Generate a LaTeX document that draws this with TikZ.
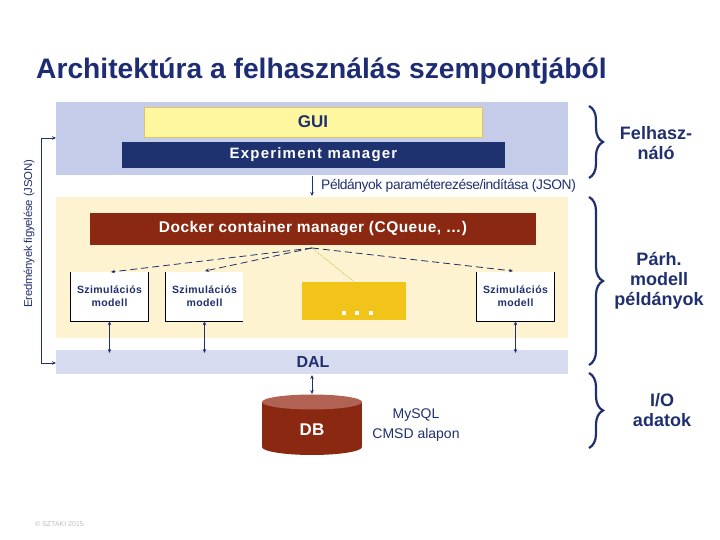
\documentclass[tikz,border=0pt]{standalone}
\usepackage{fontspec}
\setmainfont{Liberation Sans}
\usetikzlibrary{decorations.pathreplacing,arrows.meta}
\definecolor{navy}{RGB}{32,48,110}
\definecolor{titlecol}{RGB}{30,45,115}
\definecolor{panelblue}{RGB}{196,204,234}
\definecolor{dalblue}{RGB}{214,219,240}
\definecolor{cream}{RGB}{253,243,208}
\definecolor{expnavy}{RGB}{31,50,112}
\definecolor{brickred}{RGB}{138,40,17}
\definecolor{dbtop}{RGB}{178,98,82}
\definecolor{guiyellow}{RGB}{255,247,160}
\definecolor{guiborder}{RGB}{222,196,100}
\definecolor{dotsyellow}{RGB}{242,195,24}
\definecolor{copygray}{RGB}{190,190,190}
\tikzset{
  panel/.style={inner sep=0pt, anchor=south west},
  conn/.style={draw=navy, line width=0.6pt, -{Stealth[length=4pt,width=3.5pt]}},
  dconn/.style={draw=navy, line width=0.6pt, {Stealth[length=4pt,width=3.5pt]}-{Stealth[length=4pt,width=3.5pt]}},
  dashconn/.style={draw=navy, line width=0.8pt, dash pattern=on 7pt off 4pt, -{Stealth[length=4pt,width=3.5pt]}},
  simbox/.style={fill=white, minimum width=77pt, minimum height=49pt, inner sep=0pt, align=center, text=navy, font=\bfseries\fontsize{10.5}{13}\selectfont\addfontfeature{LetterSpace=4}},
  bracestyle/.style={draw=navy, line width=2.2pt, decorate, decoration={brace, amplitude=14pt}},
  sidelabel/.style={text=navy, align=center, font=\bfseries\fontsize{18}{20}\selectfont},
}
\begin{document}
\begin{tikzpicture}[x=1pt,y=1pt]
\useasboundingbox (0,0) rectangle (720,540);
% title
\node[anchor=base west, inner sep=0pt, text=titlecol, font=\bfseries\fontsize{28.2}{34}\selectfont] (title) at (36,461) {Architektúra a felhasználás szempontjából};
% panels
\fill[panelblue] (56,365) rectangle (568,438);
\fill[cream] (56,202) rectangle (568,343);
\fill[dalblue] (56,166) rectangle (568,190);
\node[text=navy, font=\bfseries\fontsize{16}{18}\selectfont] (dal) at (313,178) {DAL};
\coordinate (dalleft) at (56,177);
\coordinate (blueleft) at (56,402);
% GUI
\node[fill=guiyellow, draw=guiborder, line width=0.8pt, minimum width=338pt, minimum height=30pt, inner sep=0pt, text=navy, font=\bfseries\fontsize{17}{19}\selectfont] (gui) at (313,418) {GUI};
% Experiment manager
\node[fill=expnavy, minimum width=383pt, minimum height=26pt, inner sep=0pt, text=white, font=\bfseries\fontsize{15}{17}\selectfont\addfontfeature{LetterSpace=8}] (exp) at (313.5,385) {Experiment manager};
% Arrow to cream panel
\coordinate (a1s) at (312,364);
\coordinate (a1e) at (312,344);
\draw[conn] (a1s) -- (a1e);
\node[anchor=west, inner sep=0pt, text=navy, font=\fontsize{13.8}{15}\selectfont\addfontfeature{LetterSpace=-3}] (param) at (321,354) {Példányok paraméterezése/indítása (JSON)};
% Docker
\node[fill=brickred, minimum width=446pt, minimum height=32pt, inner sep=0pt, text=white, font=\bfseries\fontsize{15.5}{17}\selectfont\addfontfeature{LetterSpace=3}] (docker) at (313,311) {Docker container manager (CQueue, \dots)};
\coordinate (dorig) at (312,292);
% sim boxes
\node[simbox] (sim1) at (109.5,243.5) {Szimulációs\\modell};
\node[simbox] (sim2) at (204.5,243.5) {Szimulációs\\modell};
\node[simbox] (sim3) at (515.5,243.5) {Szimulációs\\modell};
\draw[black, line width=0.9pt] (sim1.north west) -- (sim1.south west) -- (sim1.south east) -- (sim1.north east);
\draw[black, line width=0.9pt] (sim2.north west) -- (sim2.south west) -- (sim2.south east);
\draw[black, line width=0.9pt] (sim3.north west) -- (sim3.south west) -- (sim3.south east) -- (sim3.north east);
% dots box
\node[fill=dotsyellow, minimum width=104pt, minimum height=38pt, inner sep=0pt] (dots) at (354,239) {};
\foreach \dx in {344,357,371} { \fill[white] (\dx-2,225) rectangle (\dx+2,229); }
% connectors from docker
\draw[dashconn] (dorig) -- (111,268);
\draw[dashconn] (dorig) -- (205,269);
\draw[dashconn] (dorig) -- (513,269);
\draw[dotsyellow!85!black, line width=0.5pt, dash pattern=on 1pt off 1pt] (dorig) -- (dots.north);
% sim to DAL
\draw[dconn] (sim1.south) -- (sim1.south |- dal.north);
\draw[dconn] (sim2.south) -- (sim2.south |- dal.north);
\draw[dconn] (sim3.south) -- (sim3.south |- dal.north);
% feedback loop
\coordinate (fbtop) at (41,402);
\coordinate (fbbot) at (41,177);
\draw[navy, line width=0.6pt, -{Stealth[length=4pt,width=3.5pt]}] (fbbot) -- (fbtop) -- (blueleft);
\draw[navy, line width=0.6pt, -{Stealth[length=4pt,width=3.5pt]}] (fbbot) -- (dalleft);
\node[rotate=90, text=navy, font=\fontsize{11.4}{13}\selectfont\addfontfeature{LetterSpace=-2}] (eredm) at (29,306) {Eredmények figyelése (JSON)};
% DB cylinder
\fill[brickred] (262,93) rectangle (362,138);
\fill[brickred] (312,93) ellipse [x radius=50pt, y radius=8pt];
\fill[dbtop] (312,138) ellipse [x radius=50pt, y radius=7.5pt];
\coordinate (dbtopc) at (312,146);
\node[text=white, font=\bfseries\fontsize{17}{19}\selectfont] (db) at (312,110) {DB};
\draw[dconn] (312,165) -- (dbtopc);
\node[align=center, text=navy, font=\fontsize{14}{20}\selectfont] (mysql) at (416,115) {MySQL\\CMSD alapon};
% braces
\draw[bracestyle] (589,434) -- (589,362);
\draw[bracestyle] (589,343) -- (589,175);
\draw[bracestyle] (589,167) -- (589,92);
\node[sidelabel] (felh) at (656,397) {Felhasz-\\náló};
\node[sidelabel] (parh) at (659,259) {Párh.\\modell\\példányok};
\node[sidelabel] (io) at (662,130) {I/O\\adatok};
% copyright
\node[anchor=west, inner sep=0pt, text=copygray, font=\fontsize{7}{8}\selectfont] (copy) at (35,16) {© SZTAKI 2015};
\end{tikzpicture}
\end{document}
